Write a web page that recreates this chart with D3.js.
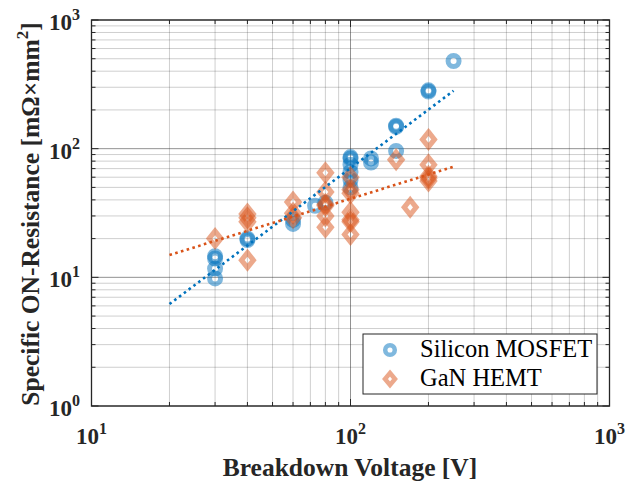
<!DOCTYPE html>
<html>
<head>
<meta charset="utf-8">
<script src="https://cdn.jsdelivr.net/npm/d3@7"></script>
<style>
  body { margin: 0; background: #fff; }
  text { font-family: "Liberation Serif", "DejaVu Serif", serif; }
</style>
</head>
<body>
<svg id="chart" width="633" height="482"></svg>
<script>
// Silicon MOSFET: breakdown voltage [V] and specific on-resistance [mOhm*mm^2]
const siliconV = [30, 30, 30, 30, 40, 40, 60, 60, 73, 80, 100, 100, 100, 100, 100, 100, 120, 120, 150, 150, 150, 200, 200, 250];
const siliconR = [9.8, 11.7, 14.0, 14.6, 19.5, 20, 26, 28, 36, 38, 84, 86, 75, 66, 57, 50, 84, 78, 148, 151, 96, 278, 284, 480];

// GaN HEMT: breakdown voltage [V] and specific on-resistance [mOhm*mm^2]
const ganV = [30, 40, 40, 40, 40, 60, 60, 60, 80, 80, 80, 80, 80, 80, 100, 100, 100, 100, 100, 100, 100, 150, 170, 200, 200, 200, 200, 200];
const ganR = [20, 31, 29, 27, 13.6, 38.5, 31.5, 29, 65, 46, 37, 36, 30, 24.5, 60, 48, 45, 32, 28, 27, 21.5, 82, 35, 118, 75, 61, 59, 56];

// Power-law trend lines (straight in log-log), given by their end points
const siliconFitV = [20, 250];
const siliconFitR = [6.2, 282];
const ganFitV = [20, 250];
const ganFitR = [14.9, 72.4];

// Axis decades and legend entries
const xTickValues = [10, 100, 1000];
const yTickValues = [1, 10, 100, 1000];
const legendLabels = ["Silicon MOSFET", "GaN HEMT"];

const blue = "#0072BD";
const orange = "#D95319";
const ink = "#262626";
const serif = '"Liberation Serif", "DejaVu Serif", serif';

const svg = d3.select("#chart");
const plot = { left: 91.5, right: 609.5, top: 20, bottom: 406 };

const x = d3.scaleLog().domain([10, 1000]).range([plot.left, plot.right]);
const y = d3.scaleLog().domain([1, 1000]).range([plot.bottom, plot.top]);

// Minor and major grid positions for each decade
const minorX = [], minorY = [];
for (const d of [10, 100]) for (let k = 2; k <= 9; k++) minorX.push(d * k);
for (const d of [1, 10, 100]) for (let k = 2; k <= 9; k++) minorY.push(d * k);

const grid = svg.append("g");
grid.selectAll(".gxm").data(minorX).join("line")
  .attr("x1", d => x(d)).attr("x2", d => x(d))
  .attr("y1", plot.top).attr("y2", plot.bottom)
  .attr("stroke", ink).attr("stroke-opacity", 0.22).attr("stroke-width", 1);
grid.selectAll(".gym").data(minorY).join("line")
  .attr("y1", d => y(d)).attr("y2", d => y(d))
  .attr("x1", plot.left).attr("x2", plot.right)
  .attr("stroke", ink).attr("stroke-opacity", 0.22).attr("stroke-width", 1);
grid.selectAll(".gxM").data(xTickValues).join("line")
  .attr("x1", d => x(d)).attr("x2", d => x(d))
  .attr("y1", plot.top).attr("y2", plot.bottom)
  .attr("stroke", ink).attr("stroke-opacity", 0.5).attr("stroke-width", 1);
grid.selectAll(".gyM").data(yTickValues).join("line")
  .attr("y1", d => y(d)).attr("y2", d => y(d))
  .attr("x1", plot.left).attr("x2", plot.right)
  .attr("stroke", ink).attr("stroke-opacity", 0.5).attr("stroke-width", 1);

// Scatter markers
const circleR = 5.5, circleW = 5;
const diamondPath = "M0,-7.5L6,0L0,7.5L-6,0Z";

svg.append("g").selectAll("circle").data(d3.range(siliconV.length)).join("circle")
  .attr("cx", i => x(siliconV[i])).attr("cy", i => y(siliconR[i]))
  .attr("r", circleR).attr("fill", "none")
  .attr("stroke", blue).attr("stroke-width", circleW).attr("stroke-opacity", 0.5);

svg.append("g").selectAll("path").data(d3.range(ganV.length)).join("path")
  .attr("transform", i => `translate(${x(ganV[i])},${y(ganR[i])})`)
  .attr("d", diamondPath).attr("fill", "none")
  .attr("stroke", orange).attr("stroke-width", 5).attr("stroke-opacity", 0.5)
  .attr("stroke-linejoin", "miter");

// Dotted trend lines
const fitLine = d3.line().x(d => x(d[0])).y(d => y(d[1]));
svg.append("path").datum(d3.zip(siliconFitV, siliconFitR)).attr("d", fitLine)
  .attr("fill", "none").attr("stroke", blue).attr("stroke-width", 2.6)
  .attr("stroke-dasharray", "2.6 3.4");
svg.append("path").datum(d3.zip(ganFitV, ganFitR)).attr("d", fitLine)
  .attr("fill", "none").attr("stroke", orange).attr("stroke-width", 2.6)
  .attr("stroke-dasharray", "2.6 3.4");

// Axes box with inward ticks on all sides
const axes = svg.append("g").attr("stroke", ink).attr("fill", "none");
axes.append("rect").attr("x", plot.left).attr("y", plot.top)
  .attr("width", plot.right - plot.left).attr("height", plot.bottom - plot.top)
  .attr("stroke-width", 1.3);
const xt = minorX.map(v => [v, 4]).concat(xTickValues.map(v => [v, 7]));
const yt = minorY.map(v => [v, 4]).concat(yTickValues.map(v => [v, 7]));
axes.selectAll(".xtb").data(xt).join("line")
  .attr("x1", d => x(d[0])).attr("x2", d => x(d[0]))
  .attr("y1", plot.bottom).attr("y2", d => plot.bottom - d[1]).attr("stroke-width", 1);
axes.selectAll(".xtt").data(xt).join("line")
  .attr("x1", d => x(d[0])).attr("x2", d => x(d[0]))
  .attr("y1", plot.top).attr("y2", d => plot.top + d[1]).attr("stroke-width", 1);
axes.selectAll(".ytl").data(yt).join("line")
  .attr("y1", d => y(d[0])).attr("y2", d => y(d[0]))
  .attr("x1", plot.left).attr("x2", d => plot.left + d[1]).attr("stroke-width", 1);
axes.selectAll(".ytr").data(yt).join("line")
  .attr("y1", d => y(d[0])).attr("y2", d => y(d[0]))
  .attr("x1", plot.right).attr("x2", d => plot.right - d[1]).attr("stroke-width", 1);

// Tick labels as 10^n
function powerLabel(sel) {
  sel.append("tspan").text("10");
  sel.append("tspan").attr("font-size", 16).attr("dy", -10).text(v => Math.round(Math.log10(v)));
}
svg.append("g").selectAll("text").data(xTickValues).join("text")
  .attr("x", d => x(d)).attr("y", 444)
  .attr("text-anchor", "middle").attr("font-family", serif)
  .attr("font-size", 23).attr("font-weight", "bold")
  .attr("fill", ink).call(powerLabel);
svg.append("g").selectAll("text").data(yTickValues).join("text")
  .attr("x", 80).attr("y", d => y(d) + 10)
  .attr("text-anchor", "end").attr("font-family", serif)
  .attr("font-size", 23).attr("font-weight", "bold")
  .attr("fill", ink).call(powerLabel);

// Axis titles
svg.append("text").attr("x", 350).attr("y", 476).attr("text-anchor", "middle")
  .attr("font-family", serif).attr("font-size", 25.5).attr("font-weight", "bold").attr("fill", ink)
  .text("Breakdown Voltage [V]");
const yl = svg.append("text").attr("transform", "translate(39,214) rotate(-90)")
  .attr("text-anchor", "middle").attr("font-family", serif)
  .attr("font-size", 25.5).attr("font-weight", "bold").attr("fill", ink);
yl.append("tspan").text("Specific ON-Resistance [mΩ×mm");
yl.append("tspan").attr("font-size", 17).attr("dy", -11).text("2");
yl.append("tspan").attr("dy", 11).text("]");

// Legend
const lg = svg.append("g");
lg.append("rect").attr("x", 363).attr("y", 334).attr("width", 234).attr("height", 60)
  .attr("fill", "#fff").attr("stroke", ink).attr("stroke-width", 1);
lg.append("circle").attr("cx", 390).attr("cy", 350).attr("r", 4.8).attr("fill", "none")
  .attr("stroke", blue).attr("stroke-width", 4.5).attr("stroke-opacity", 0.5);
lg.append("path").attr("transform", "translate(390,379)").attr("d", "M0,-6L5,0L0,6L-5,0Z")
  .attr("fill", "none").attr("stroke", orange).attr("stroke-width", 4.5).attr("stroke-opacity", 0.5);
lg.selectAll("text").data(legendLabels).join("text")
  .attr("x", 420).attr("y", (d, i) => 357 + i * 28.5)
  .attr("font-family", serif).attr("font-size", 24.5).attr("fill", "#000").text(d => d);
</script>
</body>
</html>
